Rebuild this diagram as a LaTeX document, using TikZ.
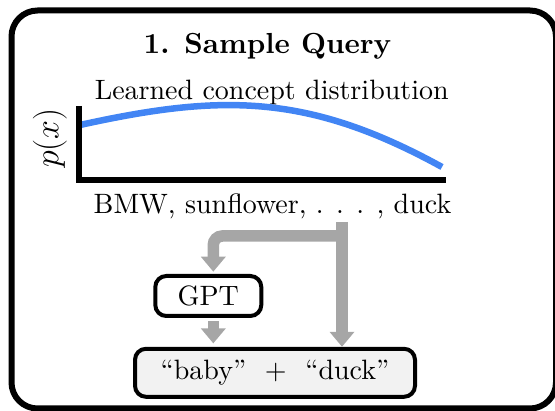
\RequirePackage{fix-cm}
\documentclass[tikz,border=0pt]{standalone}
\usepackage{fontspec}
% fixed 10pt design size of Latin Modern, for sturdier strokes when enlarged
\setmainfont{lmroman10-regular}[Extension=.otf, BoldFont=lmroman10-bold,
  ItalicFont=lmroman10-italic, BoldItalicFont=lmroman10-bolditalic]
\usetikzlibrary{arrows.meta}

\definecolor{curveblue}{HTML}{4285F4}
\definecolor{flowgray}{HTML}{A6A6A6}
\definecolor{boxfill}{HTML}{F2F2F2}

\tikzset{
  titletext/.style={font=\rmfamily\fontsize{29}{34}\selectfont\bfseries, inner sep=0pt},
  bodytext/.style={font=\rmfamily\fontsize{28}{33}\selectfont, inner sep=0pt},
  axisline/.style={line width=6pt, line join=miter},
  density/.style={draw=curveblue, line width=6.5pt},
  roundbox/.style={draw, line width=4pt, rounded corners=11pt, inner sep=0pt,
    font=\rmfamily\fontsize{28}{33}\selectfont},
  flow/.style={draw=flowgray, line width=11.5pt,
    -{Triangle[width=24pt,length=15pt]}},
}

\begin{document}
\begin{tikzpicture}[x=1pt,y=-1pt]
  \useasboundingbox (0,0) rectangle (555,411);
  \clip (0,0) rectangle (555,411);

  % outer panel
  \draw[line width=6pt, rounded corners=26pt] (11.5,10.5) rectangle (556,408.5);

  % headings
  \node[titletext, anchor=base] (title) at (267.5,53.3) {1. Sample Query};
  \node[bodytext, anchor=base] (dist) at (271.7,99.3) {Learned concept distribution};

  % plot axes and the density curve
  \coordinate (ytop) at (79,106);
  \coordinate (origin) at (79,180);
  \coordinate (xend) at (446,180);
  \coordinate (cstart) at (80,125);
  \coordinate (cend) at (442,167);
  \draw[density] (cstart) .. controls (220,94.2) and (307,92.75) .. (cend);
  \draw[axisline] (ytop) -- (origin) -- (xend);
  \node[rotate=90, inner sep=0pt, font=\fontsize{34}{39}\selectfont] (py) at (50,138) {$p(x)$};

  % sampled concepts
  \node[bodytext, anchor=base] (concepts) at (272.5,214) {BMW, sunflower, . . . , duck};

  % boxes
  \node[roundbox, minimum width=106pt, minimum height=40pt] (gpt) at (208.3,296) {GPT};
  \node[roundbox, fill=boxfill, minimum width=280pt, minimum height=48pt] (query) at (275,372.8)
    {“baby”\ \ +\ \ “duck”};

  % flow arrows
  \coordinate (tap) at (342,222);
  \coordinate (split) at (342,236);
  \coordinate (bend) at (213.3,236);
  \draw[flow] (tap) -- (tap |- query.north);
  \draw[flow, rounded corners=9pt, shorten >=2.3pt] (split) -- (bend) -- (bend |- gpt.north);
  \draw[flow, shorten <=3.4pt, shorten >=3.4pt] (bend |- gpt.south) -- (bend |- query.north);
\end{tikzpicture}
\end{document}
